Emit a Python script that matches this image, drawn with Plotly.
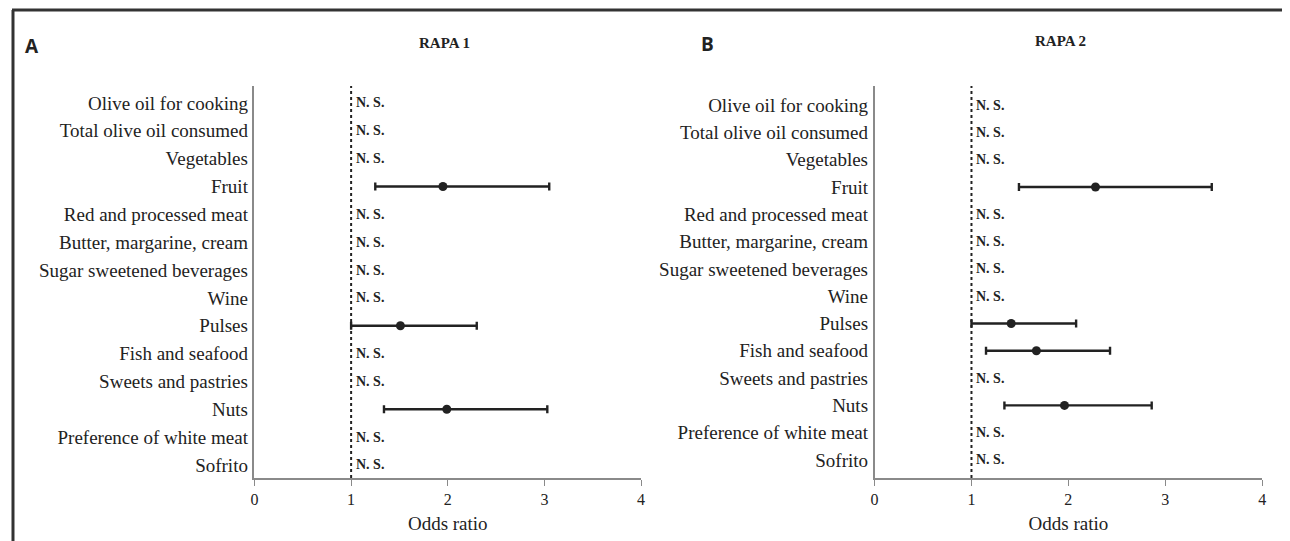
import plotly.graph_objects as go

# The page body has an 8px margin, so the figure is shrunk and shifted to match.
OFF = 8
W, H = 1290 - OFF, 541 - OFF


def px_x(x):
    return (x - OFF) / W


def px_y(y):
    return 1 - (y - OFF) / H


categories = ["Olive oil for cooking", "Total olive oil consumed", "Vegetables", "Fruit",
              "Red and processed meat", "Butter, margarine, cream", "Sugar sweetened beverages",
              "Wine", "Pulses", "Fish and seafood", "Sweets and pastries", "Nuts",
              "Preference of white meat", "Sofrito"]

# RAPA 1 (None = not significant)
or1 = [None, None, None, 1.95, None, None, None, None, 1.51, None, None, 1.99, None, None]
lo1 = [None, None, None, 1.25, None, None, None, None, 1.00, None, None, 1.34, None, None]
hi1 = [None, None, None, 3.05, None, None, None, None, 2.30, None, None, 3.03, None, None]

# RAPA 2
or2 = [None, None, None, 2.28, None, None, None, None, 1.41, 1.67, None, 1.96, None, None]
lo2 = [None, None, None, 1.49, None, None, None, None, 1.00, 1.15, None, 1.34, None, None]
hi2 = [None, None, None, 3.48, None, None, None, None, 2.08, 2.43, None, 2.86, None, None]

x_ticks = [0, 1, 2, 3, 4]
ns_label = "N. S."
panel_titles = ["RAPA 1", "RAPA 2"]
panel_letters = ["A", "B"]

SERIF = "Liberation Serif, Times New Roman, serif"
DARK = "#222222"
GRAY = "#8a8a8a"

fig = go.Figure()

panels = [
    dict(OR=or1, lo=lo1, hi=hi1, xax="x", yax="y", yrange=[13.47, -0.61]),
    dict(OR=or2, lo=lo2, hi=hi2, xax="x2", yax="y2", yrange=[13.66, -0.70]),
]

for p in panels:
    xs, ys, ep, em = [], [], [], []
    for c, o, l, h in zip(categories, p["OR"], p["lo"], p["hi"]):
        if o is not None:
            xs.append(o); ys.append(c); ep.append(h - o); em.append(o - l)
    # invisible trace to register all categories
    fig.add_trace(go.Scatter(x=[None] * len(categories), y=categories, mode="markers",
                             xaxis=p["xax"], yaxis=p["yax"], showlegend=False, hoverinfo="skip"))
    fig.add_trace(go.Scatter(
        x=xs, y=ys, mode="markers", xaxis=p["xax"], yaxis=p["yax"], showlegend=False,
        marker=dict(color=DARK, size=9),
        error_x=dict(type="data", symmetric=False, array=ep, arrayminus=em,
                     color=DARK, thickness=2.4, width=4)))
    for c, o in zip(categories, p["OR"]):
        if o is None:
            fig.add_annotation(x=1, y=c, xref=p["xax"], yref=p["yax"], text="<b>" + ns_label + "</b>",
                               showarrow=False, xanchor="left", yanchor="middle", xshift=3,
                               font=dict(family=SERIF, size=14, color=DARK))
    # dotted reference line at OR = 1
    fig.add_shape(type="line", xref=p["xax"], yref=p["yax"] + " domain", x0=1, x1=1, y0=0, y1=1,
                  line=dict(color=DARK, width=2, dash="dot"))

ydom = [px_y(478), px_y(86)]
axis_common_x = dict(range=[0, 4], tickvals=x_ticks, ticks="outside", ticklen=6, tickcolor=GRAY,
                     showline=True, linecolor=GRAY, linewidth=1.5, showgrid=False, zeroline=False,
                     tickfont=dict(family=SERIF, size=16, color=DARK),
                     title=dict(text="Odds ratio", font=dict(family=SERIF, size=19, color=DARK), standoff=10))
axis_common_y = dict(type="category", showline=True, linecolor=GRAY, linewidth=1.5, showgrid=False,
                     zeroline=False, ticks="", ticklabelstandoff=1,
                     tickfont=dict(family=SERIF, size=19, color=DARK))

fig.update_layout(
    width=W, height=H, margin=dict(l=0, r=0, t=0, b=0),
    plot_bgcolor="white", paper_bgcolor="white",
    xaxis=dict(domain=[px_x(252), px_x(641)], anchor="y", **axis_common_x),
    xaxis2=dict(domain=[px_x(876), px_x(1266)], anchor="y2", **axis_common_x),
    yaxis=dict(domain=ydom, anchor="x", range=panels[0]["yrange"], **axis_common_y),
    yaxis2=dict(domain=ydom, anchor="x2", range=panels[1]["yrange"], **axis_common_y),
)

# Panel titles and letters
for tx, ty, t in [(443, 43, panel_titles[0]), (1063, 41, panel_titles[1])]:
    fig.add_annotation(x=px_x(tx), y=px_y(ty), xref="paper", yref="paper", text="<b>" + t + "</b>",
                       showarrow=False, xanchor="center", yanchor="middle",
                       font=dict(family=SERIF, size=15, color=DARK))
for tx, ty, t in [(28, 46, panel_letters[0]), (708, 44, panel_letters[1])]:
    fig.add_annotation(x=px_x(tx), y=px_y(ty), xref="paper", yref="paper", text="<b>" + t + "</b>",
                       showarrow=False, xanchor="center", yanchor="middle",
                       font=dict(family="Open Sans, Arial, sans-serif", size=19, color=DARK))

# Figure frame (top and left edges)
fig.add_shape(type="line", xref="paper", yref="paper", x0=px_x(8), x1=1, y0=px_y(10), y1=px_y(10),
              line=dict(color="#333333", width=3))
fig.add_shape(type="line", xref="paper", yref="paper", x0=px_x(9), x1=px_x(9), y0=0, y1=px_y(10),
              line=dict(color="#333333", width=3))

fig.write_html("out.html")
